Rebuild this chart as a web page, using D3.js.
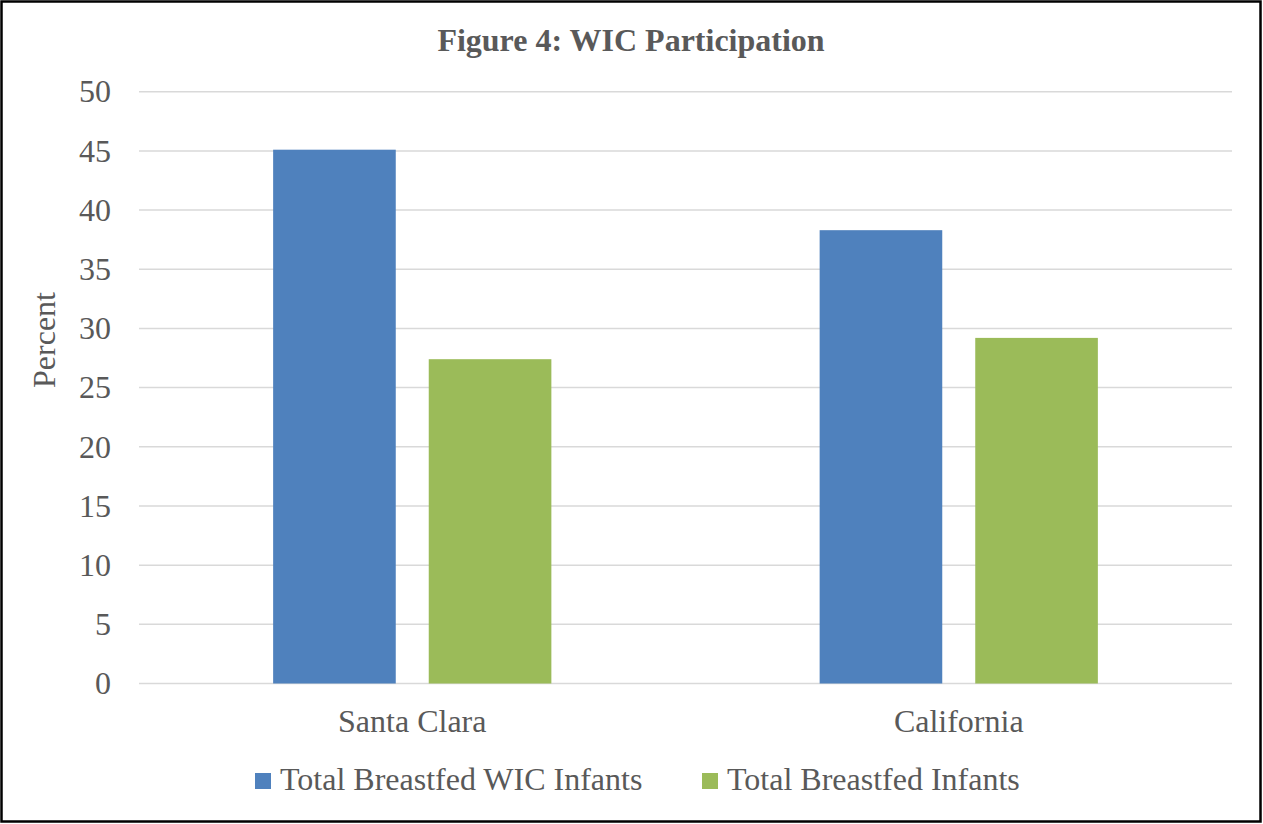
<!DOCTYPE html>
<html>
<head>
<meta charset="utf-8">
<script src="https://cdn.jsdelivr.net/npm/d3@7"></script>
<style>
  html, body { margin: 0; padding: 0; background: #fff; }
  svg { display: block; }
  text { font-family: "Liberation Serif", "Times New Roman", serif; fill: #595959; }
</style>
</head>
<body>
<svg id="chart"></svg>
<script>
const WIDTH = 1263;
const HEIGHT = 824;

// data
const categories = ["Santa Clara", "California"];
const seriesNames = ["Total Breastfed WIC Infants", "Total Breastfed Infants"];
const wicValues = [45.1, 38.3];
const allValues = [27.4, 29.2];
const yTicks = [0, 5, 10, 15, 20, 25, 30, 35, 40, 45, 50];

const COLORS = ["#4f81bd", "#9bbb59"];
const FONT = 32;

const PLOT = { left: 139, right: 1232, top: 91.7, bottom: 683.5 };

function main() {
    var svg = d3.select("#chart")
        .attr("width", WIDTH)
        .attr("height", HEIGHT);

    // frame
    svg.append("rect")
        .attr("x", 1.5).attr("y", 1.5)
        .attr("width", WIDTH - 4).attr("height", HEIGHT - 4)
        .attr("fill", "none")
        .attr("stroke", "#000")
        .attr("stroke-width", 2.5);

    var y = d3.scaleLinear()
        .domain([0, 50])
        .range([PLOT.bottom, PLOT.top]);

    var x0 = d3.scaleBand()
        .domain(categories)
        .range([PLOT.left, PLOT.right]);

    var x1 = d3.scaleBand()
        .domain(seriesNames)
        .range([0, x0.bandwidth()])
        .paddingInner(0.212)
        .paddingOuter(0.862);

    // gridlines
    svg.append("g")
        .selectAll("line")
        .data(yTicks)
        .join("line")
        .attr("x1", PLOT.left)
        .attr("x2", PLOT.right)
        .attr("y1", d => y(d))
        .attr("y2", d => y(d))
        .attr("stroke", "#d9d9d9")
        .attr("stroke-width", 1.5);

    // y tick labels
    var yAxis = svg.append("g")
        .attr("transform", "translate(" + PLOT.left + ",0)")
        .call(d3.axisLeft(y).tickValues(yTicks).tickSize(0).tickPadding(28));
    yAxis.select(".domain").remove();
    yAxis.selectAll("text")
        .attr("font-family", null)
        .style("font-size", FONT + "px")
        .attr("fill", "#595959");

    // bars
    var rows = categories.map((c, i) => ({ cat: c, vals: [wicValues[i], allValues[i]] }));
    var groups = svg.append("g")
        .selectAll("g")
        .data(rows)
        .join("g")
        .attr("transform", d => "translate(" + x0(d.cat) + ",0)");

    groups.selectAll("rect")
        .data(d => d.vals.map((v, j) => ({ s: seriesNames[j], v: v, j: j })))
        .join("rect")
        .attr("x", d => x1(d.s))
        .attr("width", x1.bandwidth())
        .attr("y", d => y(d.v))
        .attr("height", d => y(0) - y(d.v))
        .attr("fill", d => COLORS[d.j]);

    // category labels
    svg.append("g")
        .selectAll("text")
        .data(categories)
        .join("text")
        .attr("x", d => x0(d) + x0.bandwidth() / 2)
        .attr("y", 732)
        .attr("text-anchor", "middle")
        .style("font-size", FONT + "px")
        .text(d => d);

    // title
    svg.append("text")
        .attr("x", 631)
        .attr("y", 51)
        .attr("text-anchor", "middle")
        .style("font-size", "32px")
        .style("font-weight", "bold")
        .text("Figure 4: WIC Participation");

    // y axis title
    svg.append("text")
        .attr("transform", "translate(55,340) rotate(-90)")
        .attr("text-anchor", "middle")
        .style("font-size", FONT + "px")
        .text("Percent");

    // legend
    var legendX = [255, 702];
    var legend = svg.append("g")
        .selectAll("g")
        .data(seriesNames)
        .join("g")
        .attr("transform", (d, i) => "translate(" + legendX[i] + ",773)");
    legend.append("rect")
        .attr("width", 16)
        .attr("height", 16)
        .attr("fill", (d, i) => COLORS[i]);
    legend.append("text")
        .attr("x", 25)
        .attr("y", 17)
        .style("font-size", FONT + "px")
        .text(d => d);
}

window.addEventListener("load", main);
</script>
</body>
</html>
